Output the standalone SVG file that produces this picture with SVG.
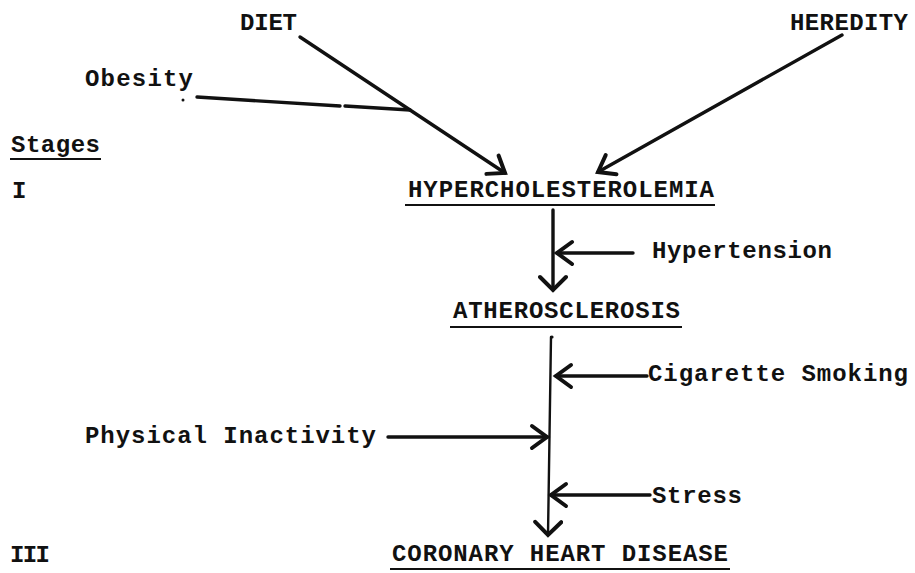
<svg xmlns="http://www.w3.org/2000/svg" width="915" height="573" viewBox="0 0 915 573">
<style>
  text { font-family: "Liberation Mono", "Courier New", monospace; font-size: 24px; font-weight: bold; fill: #111; }
  .ln { stroke: #111; stroke-width: 3.4; fill: none; stroke-linecap: round; }
  .thin { stroke: #111; stroke-width: 2.4; fill: none; stroke-linecap: round; }
  .ul { stroke: #111; stroke-width: 2.2; }
</style>
<defs>
  <marker id="chev" markerUnits="userSpaceOnUse" markerWidth="30" markerHeight="30" viewBox="-17 -15 21 30" refX="0" refY="0" orient="auto">
    <path d="M -15 -11 L 0 0 L -15 11" fill="none" stroke="#111" stroke-width="4" stroke-linecap="round" stroke-linejoin="miter"/>
  </marker>
  <marker id="chevW" markerUnits="userSpaceOnUse" markerWidth="30" markerHeight="30" viewBox="-16 -15 20 30" refX="0" refY="0" orient="auto">
    <path d="M -13 -13 L 0 0 L -13 13" fill="none" stroke="#111" stroke-width="4" stroke-linecap="round" stroke-linejoin="miter"/>
  </marker>
</defs>
<rect width="915" height="573" fill="#fff"/>

<g id="connectors">
  <line class="ln" x1="300" y1="37" x2="505" y2="173" marker-end="url(#chev)"/>
  <line class="ln" x1="842" y1="35" x2="598" y2="172" marker-end="url(#chev)"/>
  <line class="ln" x1="197" y1="97" x2="340" y2="106"/>
  <line class="ln" x1="345" y1="106" x2="410" y2="110"/>
  <circle cx="183" cy="100" r="1.5" fill="#111"/>
  <line class="ln" x1="553" y1="210" x2="553" y2="290" marker-end="url(#chevW)"/>
  <line class="ln" x1="633" y1="253" x2="557" y2="253" marker-end="url(#chev)"/>
  <circle cx="552" cy="337" r="1.6" fill="#111"/>
  <line class="thin" x1="551" y1="337" x2="548" y2="535" marker-end="url(#chevW)"/>
  <line class="ln" x1="647" y1="376" x2="556" y2="376" marker-end="url(#chev)"/>
  <line class="ln" x1="388" y1="437" x2="547" y2="437" marker-end="url(#chev)"/>
  <line class="ln" x1="650" y1="495" x2="551" y2="495" marker-end="url(#chev)"/>
</g>

<g id="diet"><text x="240" y="30" textLength="57" lengthAdjust="spacing">DIET</text></g>
<g id="heredity"><text x="790" y="30" textLength="118" lengthAdjust="spacing">HEREDITY</text></g>
<g id="obesity"><text x="85" y="86" textLength="108" lengthAdjust="spacing">Obesity</text></g>
<g id="stages">
  <text x="11" y="152" textLength="89" lengthAdjust="spacing">Stages</text>
  <line class="ul" x1="10" y1="159" x2="101" y2="159"/>
</g>
<g id="stage-I"><text x="12" y="198">I</text></g>
<g id="hypercholesterolemia">
  <text x="408" y="197" textLength="306" lengthAdjust="spacing">HYPERCHOLESTEROLEMIA</text>
  <line class="ul" x1="405" y1="205" x2="715" y2="205"/>
</g>
<g id="hypertension"><text x="652" y="258" textLength="180" lengthAdjust="spacing">Hypertension</text></g>
<g id="atherosclerosis">
  <text x="453" y="318" textLength="227" lengthAdjust="spacing">ATHEROSCLEROSIS</text>
  <line class="ul" x1="450" y1="327" x2="682" y2="327"/>
</g>
<g id="cigarette"><text x="648" y="381" textLength="260" lengthAdjust="spacing">Cigarette Smoking</text></g>
<g id="physical"><text x="85" y="443" textLength="291" lengthAdjust="spacing">Physical Inactivity</text></g>
<g id="stress"><text x="652" y="503" textLength="90" lengthAdjust="spacing">Stress</text></g>
<g id="stage-III"><text x="10" y="562" textLength="40" lengthAdjust="spacing">III</text></g>
<g id="chd">
  <text x="392" y="561" textLength="336" lengthAdjust="spacing">CORONARY HEART DISEASE</text>
  <line class="ul" x1="390" y1="569" x2="730" y2="569"/>
</g>
</svg>
